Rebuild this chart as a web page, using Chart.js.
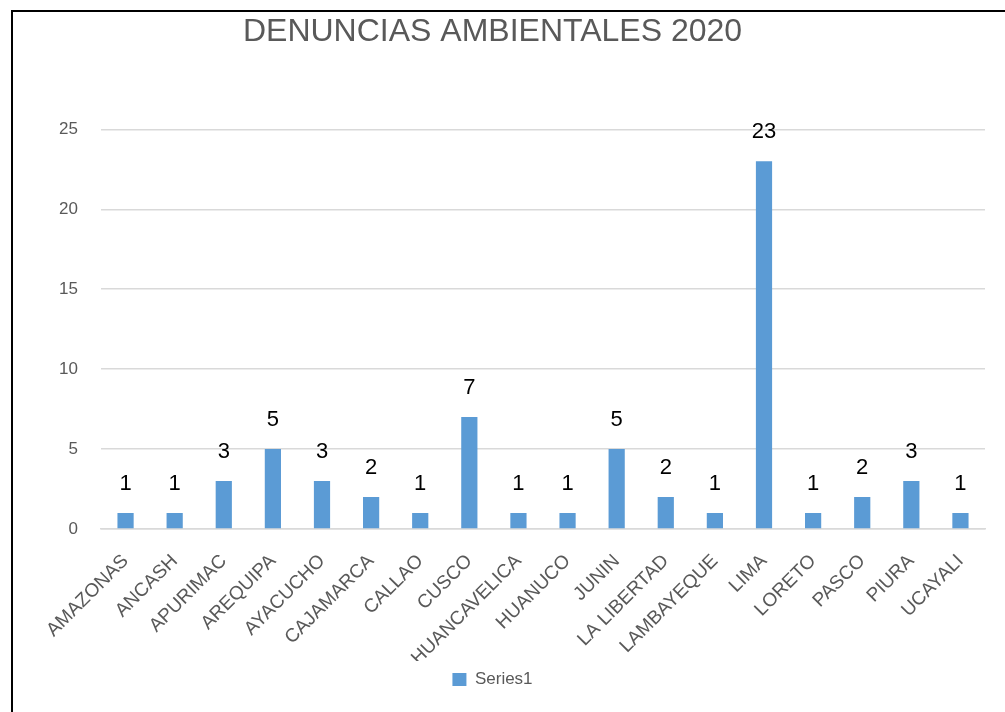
<!DOCTYPE html>
<html>
<head>
<meta charset="utf-8">
<script src="https://cdn.jsdelivr.net/npm/chart.js@4"></script>
<style>
  html, body { margin: 0; padding: 0; background: #fff; }
  #frame { position: absolute; left: 11px; top: 10px; width: 1000px; height: 710px;
           border-left: 2px solid #000; border-top: 2px solid #000; }
  #wrap { position: absolute; left: 0; top: 0; width: 993px; height: 712px; }
</style>
</head>
<body>
<div id="frame"></div>
<div id="wrap"><canvas id="barChart"></canvas></div>
<script>
const regiones = ['AMAZONAS', 'ANCASH', 'APURIMAC', 'AREQUIPA', 'AYACUCHO', 'CAJAMARCA', 'CALLAO', 'CUSCO',
  'HUANCAVELICA', 'HUANUCO', 'JUNIN', 'LA LIBERTAD', 'LAMBAYEQUE', 'LIMA', 'LORETO', 'PASCO', 'PIURA', 'UCAYALI'];
const denuncias = [1, 1, 3, 5, 3, 2, 1, 7, 1, 1, 5, 2, 1, 23, 1, 2, 3, 1];
const yTicks = [0, 5, 10, 15, 20, 25];

const gris = '#595959';
const fuente = "'Liberation Sans', Arial, sans-serif";

// etiquetas de valor encima de cada barra
const etiquetas = {
  id: 'etiquetas',
  afterDatasetsDraw(chart) {
    const ctx = chart.ctx;
    const meta = chart.getDatasetMeta(0);
    ctx.save();
    ctx.font = '22px ' + fuente;
    ctx.fillStyle = '#000';
    ctx.textAlign = 'center';
    ctx.textBaseline = 'bottom';
    meta.data.forEach((bar, i) => {
      ctx.fillText(String(denuncias[i]), bar.x, bar.y - 18);
    });
    ctx.restore();
  }
};

const ctx1 = document.getElementById('barChart');

new Chart(ctx1, {
  type: 'bar',
  data: {
    labels: regiones,
    datasets: [{
      label: 'Series1',
      data: denuncias,
      backgroundColor: '#5B9BD5',
      borderWidth: 0,
      barPercentage: 0.33,
      categoryPercentage: 1
    }]
  },
  options: {
    responsive: true,
    maintainAspectRatio: false,
    animation: false,
    layout: { padding: { left: 0, right: 8, top: 0, bottom: 14 } },
    plugins: {
      title: {
        display: true,
        text: 'DENUNCIAS AMBIENTALES 2020',
        color: gris,
        font: { family: fuente, size: 32, weight: 'normal' },
        padding: { top: 13, bottom: 78 }
      },
      legend: {
        position: 'bottom',
        labels: {
          color: gris,
          font: { family: fuente, size: 17 },
          boxWidth: 14,
          boxHeight: 13,
          padding: 10
        }
      },
      tooltip: { enabled: false }
    },
    scales: {
      y: {
        min: 0,
        max: 25,
        afterFit(scale) { scale.width = 101; },
        afterBuildTicks(scale) { scale.ticks = yTicks.map(v => ({ value: v })); },
        border: { display: false },
        grid: { color: '#D9D9D9', lineWidth: 1.5, drawTicks: false },
        ticks: { color: gris, font: { family: fuente, size: 17 }, padding: 23 }
      },
      x: {
        afterFit(scale) { scale.height = 132; },
        border: { color: '#D9D9D9', width: 1.5 },
        grid: { display: false },
        ticks: {
          color: gris,
          font: { family: fuente, size: 19 },
          minRotation: 45,
          maxRotation: 45,
          autoSkip: false,
          padding: 13
        }
      }
    }
  },
  plugins: [etiquetas]
});
</script>
</body>
</html>
